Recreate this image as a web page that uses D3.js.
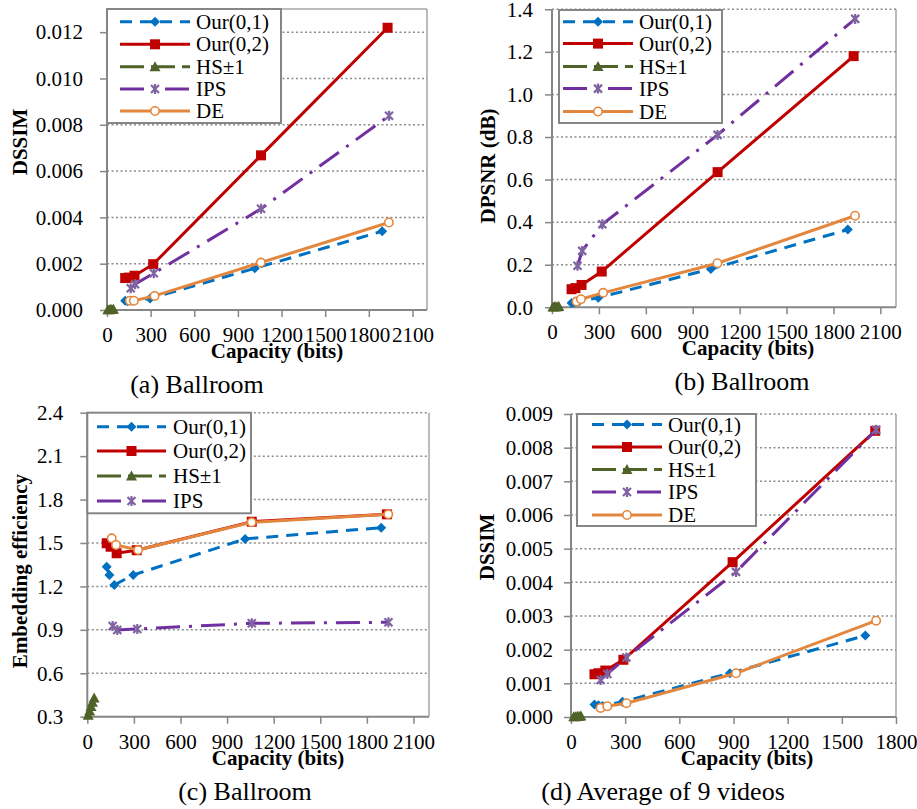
<!DOCTYPE html>
<html>
<head>
<meta charset="utf-8">
<script src="https://cdn.jsdelivr.net/npm/d3@7"></script>
<style>
  body { margin: 0; background: #fff; }
  svg { display: block; }
  text { font-family: "Liberation Serif", "Times New Roman", serif; fill: #000; }
</style>
</head>
<body>
<div id="chart"></div>
<script>
// ---------------------------------------------------------------------------
// Data
// ---------------------------------------------------------------------------
// Ballroom capacities (bits)
const capOur01 = [125, 142, 174, 296, 1016, 1892];
const capOur02 = [125, 150, 189, 318, 1059, 1929];
const capHS    = [6, 15, 24, 33, 44];
const capIPS   = [163, 193, 322, 1059, 1939];
const capDE    = [157, 185, 327, 1058, 1938];

// (a) Ballroom DSSIM
const dssimOur01 = [0.0004, 0.00038, 0.0004, 0.0005, 0.0018, 0.0034];
const dssimOur02 = [0.00138, 0.0014, 0.00148, 0.00198, 0.00668, 0.01219];
const dssimHS    = [0.00001, 0.00001, 0.00002, 0.00002, 0.00003];
const dssimIPS   = [0.00094, 0.00111, 0.00159, 0.00437, 0.00839];
const dssimDE    = [0.0004, 0.0004, 0.00061, 0.00205, 0.00378];

// (b) Ballroom DPSNR (dB)
const psnrOur01 = [0.02, 0.022, 0.028, 0.045, 0.18, 0.365];
const psnrOur02 = [0.085, 0.09, 0.105, 0.168, 0.635, 1.18];
const psnrHS    = [0.001, 0.002, 0.002, 0.003, 0.004];
const psnrIPS   = [0.195, 0.265, 0.39, 0.81, 1.355];
const psnrDE    = [0.027, 0.038, 0.068, 0.207, 0.43];

// (c) Ballroom embedding efficiency
const effOur01 = [1.336, 1.279, 1.21, 1.279, 1.528, 1.606];
const effOur02 = [1.498, 1.474, 1.429, 1.45, 1.647, 1.698];
const effHS    = [0.31, 0.34, 0.37, 0.40, 0.43];
const effIPS   = [0.927, 0.899, 0.906, 0.945, 0.952];
const effDE    = [1.532, 1.486, 1.451, 1.643, 1.698];

// (d) Average of 9 videos: capacities and DSSIM
const avgCapOur01 = [130, 152, 175, 285, 880, 1630];
const avgCapOur02 = [130, 152, 190, 290, 895, 1685];
const avgCapHS    = [15, 25, 35, 45, 55];
const avgCapIPS   = [164, 201, 307, 914, 1690];
const avgCapDE    = [164, 201, 307, 914, 1690];
const avgOur01 = [0.00037, 0.00035, 0.00033, 0.00045, 0.0013, 0.00242];
const avgOur02 = [0.00127, 0.0013, 0.00138, 0.0017, 0.0046, 0.0085];
const avgHS    = [0.00001, 0.00001, 0.00002, 0.00002, 0.00003];
const avgIPS   = [0.0011, 0.00128, 0.00177, 0.00431, 0.00853];
const avgDE    = [0.00027, 0.00032, 0.00041, 0.0013, 0.00286];

// tick values
const xTicksBallroom = [0, 300, 600, 900, 1200, 1500, 1800, 2100];
const xTicksAvg      = [0, 300, 600, 900, 1200, 1500, 1800];
const yTicksDssimA   = [0, 0.002, 0.004, 0.006, 0.008, 0.010, 0.012];
const yTicksPsnr     = [0, 0.2, 0.4, 0.6, 0.8, 1.0, 1.2, 1.4];
const yTicksEff      = [0.3, 0.6, 0.9, 1.2, 1.5, 1.8, 2.1, 2.4];
const yTicksDssimD   = [0, 0.001, 0.002, 0.003, 0.004, 0.005, 0.006, 0.007, 0.008, 0.009];

// ---------------------------------------------------------------------------
// Series styles
// ---------------------------------------------------------------------------
const styles = {
    our01: { label: 'Our(0,1)', color: '#0070C0', mcolor: '#0070C0', dash: '12,8', marker: 'diamond' },
    our02: { label: 'Our(0,2)', color: '#C00000', mcolor: '#C00000', dash: null, marker: 'square' },
    hs:    { label: 'HS\u00b11', color: '#4F6228', mcolor: '#4F6228', dash: '24,7', marker: 'triangle' },
    ips:   { label: 'IPS', color: '#7030A0', mcolor: '#8064A2', dash: '24,9,3,9', marker: 'star' },
    de:    { label: 'DE', color: '#E3873F', mcolor: '#E3873F', dash: null, marker: 'circle' }
};

function markerPath(type) {
    if (type === 'diamond') return 'M0,-5L5,0L0,5L-5,0Z';
    if (type === 'square') return 'M-5,-5h10v10h-10Z';
    if (type === 'triangle') return 'M0,-5.5L5.5,4.5L-5.5,4.5Z';
    if (type === 'circle') return 'M4.2,0A4.2,4.2 0 1,1 -4.2,0A4.2,4.2 0 1,1 4.2,0Z';
    return 'M-4,-4L4,4M4,-4L-4,4M0,-5L0,5';
}

function drawMarker(g, key, x, y) {
    const s = styles[key];
    const p = g.append('path')
        .attr('d', markerPath(s.marker))
        .attr('transform', `translate(${x},${y})`);
    if (s.marker === 'circle') {
        p.attr('fill', '#fff').attr('stroke', s.mcolor).attr('stroke-width', 1.6);
    } else if (s.marker === 'star') {
        p.attr('fill', 'none').attr('stroke', s.mcolor).attr('stroke-width', 2.2);
    } else {
        p.attr('fill', s.mcolor);
    }
}

// ---------------------------------------------------------------------------
// Panels
// ---------------------------------------------------------------------------
const panels = [
    {
        box: { left: 107, right: 427, top: 9, bottom: 310 },
        xDomain: [0, 2200], yDomain: [0, 0.013], xTicks: xTicksBallroom, yTicks: yTicksDssimA,
        yFmt: d3.format('.3f'), yLabelGap: 24,
        yTitle: 'DSSIM', yTitleX: 27, yTitleY: 142,
        xTitleX: 277, caption: '(a) Ballroom', captionX: 197,
        series: [
            ['our01', capOur01, dssimOur01], ['our02', capOur02, dssimOur02], ['hs', capHS, dssimHS],
            ['ips', capIPS, dssimIPS], ['de', capDE, dssimDE]
        ],
        legend: { left: 107, right: 281, top: 9, bottom: 123, rows: [21.7, 44.3, 66.7, 89, 111], lx0: 120, lx1: 190, tx: 196 }
    },
    {
        box: { left: 552, right: 896, top: 9.3, bottom: 307.3 },
        xDomain: [0, 2200], yDomain: [0, 1.4], xTicks: xTicksBallroom, yTicks: yTicksPsnr,
        yFmt: d3.format('.1f'), yLabelGap: 19,
        yTitle: 'DPSNR (dB)', yTitleX: 495, yTitleY: 166,
        xTitleX: 748, caption: '(b) Ballroom', captionX: 742,
        series: [
            ['our01', capOur01, psnrOur01], ['our02', capOur02, psnrOur02], ['hs', capHS, psnrHS],
            ['ips', capIPS, psnrIPS], ['de', capDE, psnrDE]
        ],
        legend: { left: 559, right: 722, top: 10, bottom: 123, rows: [21.7, 43.6, 66.5, 88.6, 111.5], lx0: 563, lx1: 633, tx: 639 }
    },
    {
        box: { left: 87.3, right: 429, top: 412.7, bottom: 716.7 },
        xDomain: [0, 2200], yDomain: [0.3, 2.4], xTicks: xTicksBallroom, yTicks: yTicksEff,
        yFmt: d3.format('.1f'), yLabelGap: 24,
        yTitle: 'Embedding efficiency', yTitleX: 27, yTitleY: 571,
        xTitleX: 278, caption: '(c) Ballroom', captionX: 245,
        series: [
            ['our01', capOur01, effOur01], ['our02', capOur02, effOur02], ['hs', capHS, effHS],
            ['ips', capIPS, effIPS], ['de', capDE, effDE]
        ],
        legendKeys: ['our01', 'our02', 'hs', 'ips'],
        legend: { left: 87.3, right: 251, top: 412.7, bottom: 513.3, rows: [426.7, 451, 476, 501], lx0: 97, lx1: 166, tx: 173 }
    },
    {
        box: { left: 571, right: 896, top: 414, bottom: 717 },
        xDomain: [0, 1800], yDomain: [0, 0.009], xTicks: xTicksAvg, yTicks: yTicksDssimD,
        yFmt: d3.format('.3f'), yLabelGap: 18,
        yTitle: 'DSSIM', yTitleX: 494, yTitleY: 547,
        xTitleX: 747, caption: '(d) Average of 9 videos', captionX: 663,
        series: [
            ['our01', avgCapOur01, avgOur01], ['our02', avgCapOur02, avgOur02], ['hs', avgCapHS, avgHS],
            ['ips', avgCapIPS, avgIPS], ['de', avgCapDE, avgDE]
        ],
        legend: { left: 577, right: 756, top: 414, bottom: 526, rows: [424.5, 447, 469.5, 492, 515], lx0: 592, lx1: 662, tx: 668 }
    }
];

const svg = d3.select('#chart').append('svg')
    .attr('width', 917)
    .attr('height', 809);

panels.forEach(p => {
    const b = p.box;
    const x = d3.scaleLinear().domain(p.xDomain).range([b.left, b.right]);
    const y = d3.scaleLinear().domain(p.yDomain).range([b.bottom, b.top]);
    const g = svg.append('g');

    // plot border (top / right)
    g.append('line').attr('x1', b.right).attr('x2', b.right).attr('y1', b.top).attr('y2', b.bottom)
        .attr('stroke', '#A6A6A6').attr('stroke-width', 1.5);
    if (!p.yTicks.includes(p.yDomain[1])) {
        g.append('line').attr('x1', b.left).attr('x2', b.right).attr('y1', b.top).attr('y2', b.top)
            .attr('stroke', '#A6A6A6').attr('stroke-width', 1.5);
    }

    // dotted gridlines
    g.selectAll('.grid').data(p.yTicks.filter(t => t !== p.yDomain[0])).enter()
        .append('line')
        .attr('x1', b.left).attr('x2', b.right)
        .attr('y1', d => y(d)).attr('y2', d => y(d))
        .attr('stroke', '#8C8C8C').attr('stroke-width', 1.5).attr('stroke-dasharray', '2,2.5');

    // y axis
    const yAxis = g.append('g')
        .attr('transform', `translate(${b.left},0)`)
        .call(d3.axisLeft(y).tickValues(p.yTicks).tickFormat(p.yFmt).tickSize(7).tickPadding(p.yLabelGap - 7));
    // x axis
    const xAxis = g.append('g')
        .attr('transform', `translate(0,${b.bottom})`)
        .call(d3.axisBottom(x).tickValues(p.xTicks).tickFormat(d3.format('d')).tickSize(7).tickPadding(10));
    [yAxis, xAxis].forEach(a => {
        a.select('.domain').attr('stroke', '#868686').attr('stroke-width', 2);
        a.selectAll('.tick line').attr('stroke', '#868686').attr('stroke-width', 1.5);
        a.selectAll('.tick text').style('font-size', '21px').attr('fill', '#000');
    });
    yAxis.select('.domain').attr('d', `M0,${b.bottom}V${b.top}`);
    xAxis.select('.domain').attr('d', `M${b.left},0H${b.right}`);
    xAxis.selectAll('.tick text').attr('dy', '0.71em');

    // axis titles
    g.append('text')
        .attr('x', p.xTitleX).attr('y', b.bottom + 48)
        .attr('text-anchor', 'middle')
        .style('font-size', '21px').style('font-weight', 'bold')
        .text('Capacity (bits)');
    g.append('text')
        .attr('transform', `translate(${p.yTitleX},${p.yTitleY}) rotate(-90)`)
        .attr('text-anchor', 'middle')
        .style('font-size', '21px').style('font-weight', 'bold')
        .text(p.yTitle);
    g.append('text')
        .attr('x', p.captionX).attr('y', b.bottom + 83)
        .attr('text-anchor', 'middle')
        .style('font-size', '26px')
        .text(p.caption);

    // series
    p.series.forEach(([key, xs, ys]) => {
        const s = styles[key];
        const pts = xs.map((v, i) => [v, ys[i]]);
        const line = d3.line().x(d => x(d[0])).y(d => y(d[1]));
        g.append('path')
            .attr('d', line(pts))
            .attr('fill', 'none')
            .attr('stroke', s.color)
            .attr('stroke-width', 3)
            .attr('stroke-dasharray', s.dash);
        pts.forEach(d => drawMarker(g, key, x(d[0]), y(d[1])));
    });

    // legend
    const L = p.legend;
    const keys = p.legendKeys || ['our01', 'our02', 'hs', 'ips', 'de'];
    g.append('rect')
        .attr('x', L.left).attr('y', L.top)
        .attr('width', L.right - L.left).attr('height', L.bottom - L.top)
        .attr('fill', '#fff').attr('stroke', '#868686').attr('stroke-width', 2);
    keys.forEach((k, i) => {
        const s = styles[k];
        const yy = L.rows[i];
        g.append('line')
            .attr('x1', L.lx0).attr('x2', L.lx1).attr('y1', yy).attr('y2', yy)
            .attr('stroke', s.color).attr('stroke-width', 3)
            .attr('stroke-dasharray', s.dash);
        drawMarker(g, k, (L.lx0 + L.lx1) / 2, yy);
        g.append('text')
            .attr('x', L.tx).attr('y', yy + 7)
            .style('font-size', '21px')
            .text(s.label);
    });
});
</script>
</body>
</html>
